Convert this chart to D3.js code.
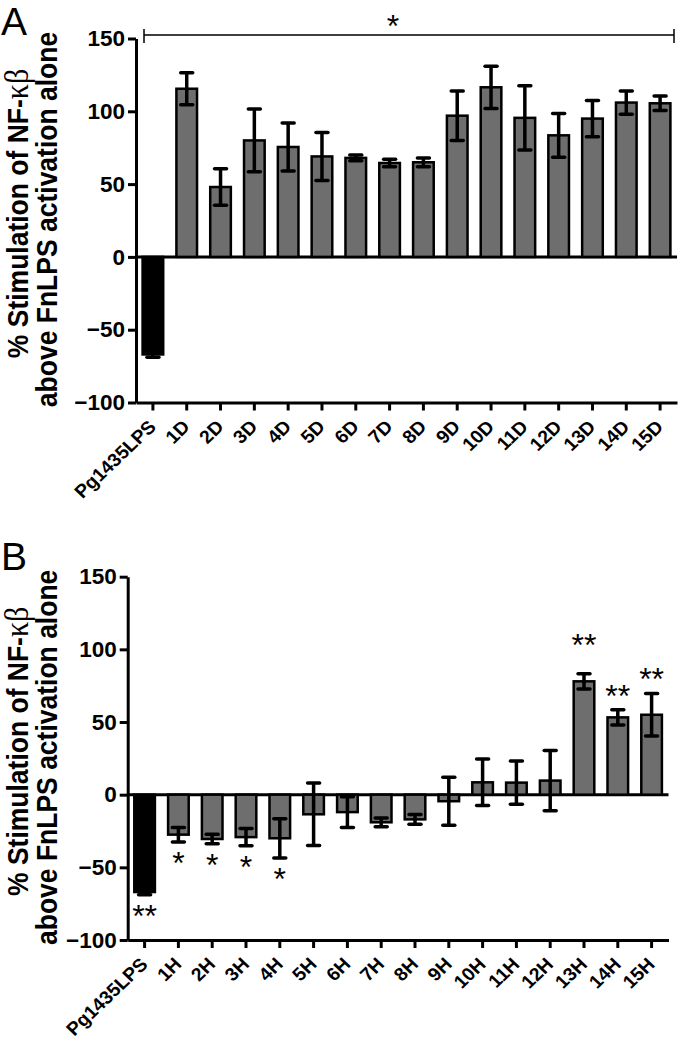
<!DOCTYPE html>
<html>
<head>
<meta charset="utf-8">
<script src="https://cdn.jsdelivr.net/npm/d3@7"></script>
<style>
  html, body { margin: 0; padding: 0; background: #fff; }
  svg { display: block; }
</style>
</head>
<body>
<svg id="chart" width="680" height="1038"></svg>
<script>
// ---------- DATA ----------
const catsA = ["Pg1435LPS","1D","2D","3D","4D","5D","6D","7D","8D","9D","10D","11D","12D","13D","14D","15D"];
const valsA = [-67, 115.5, 48, 80, 75.5, 69, 68, 64.5, 65, 97, 116.5, 95.5, 83.5, 95, 106, 105.5];
const errA  = [2, 11, 12.5, 21.5, 16.5, 16.5, 2, 2.5, 3, 17, 14.5, 22, 15, 12.5, 8, 5];
const sigA  = "*";   // one bracket over all groups

const catsB = ["Pg1435LPS","1H","2H","3H","4H","5H","6H","7H","8H","9H","10H","11H","12H","13H","14H","15H"];
const valsB = [-67, -27.5, -30.5, -29.2, -30, -13.5, -12, -19, -17, -4.5, 8.5, 8.3, 9.7, 78, 53.2, 55];
const errB  = [1.8, 5, 3.3, 6, 13.5, 21.5, 10.5, 3, 3.3, 16.5, 16, 14.8, 20.7, 5.2, 5.3, 14.7];
const sigB  = ["**","*","*","*","*","","","","","","","","","**","**","**"];

const yTicks = [150, 100, 50, 0, -50, -100];
const yDomain = [-100, 150];
const titleLine1 = "% Stimulation of NF-";
const titleGreek = "\u03BA\u03B2";
const titleLine2 = "above FnLPS activation alone";

// ---------- LAYOUT ----------
const svg = d3.select("#chart");
const SANS = "'Liberation Sans', Arial, Helvetica, sans-serif";
const SERIF = "'Liberation Serif', 'DejaVu Serif', serif";
const BAR_FILL = "#6e6e6e";

function panel(cfg) {
  const g = svg.append("g");
  const y = d3.scaleLinear().domain(yDomain).range([cfg.bottom, cfg.top]);
  const x = d3.scaleBand().domain(cfg.cats).range([cfg.left, cfg.right])
              .paddingInner(0.39).paddingOuter(0.195);
  const bw = x.bandwidth();
  const cx = c => x(c) + bw / 2;

  // y axis
  const ya = g.append("g").attr("transform", `translate(${cfg.left},0)`)
    .call(d3.axisLeft(y).tickValues(yTicks).tickSize(8).tickSizeOuter(0).tickPadding(3));
  ya.select(".domain").attr("stroke", "#000").attr("stroke-width", 3);
  ya.selectAll(".tick line").attr("stroke", "#000").attr("stroke-width", 3);
  ya.selectAll(".tick text").attr("font-family", SANS).attr("font-weight", "bold")
    .attr("font-size", 22.5).attr("fill", "#000");

  // x axis (at bottom)
  const xa = g.append("g").attr("transform", `translate(0,${cfg.bottom})`)
    .call(d3.axisBottom(x).tickSize(8).tickSizeOuter(0));
  xa.select(".domain").attr("stroke", "#000").attr("stroke-width", 3);
  xa.selectAll(".tick line").attr("stroke", "#000").attr("stroke-width", 3);
  xa.selectAll(".tick text")
    .attr("font-family", SANS).attr("font-weight", "bold").attr("font-size", 18.5)
    .attr("fill", "#000")
    .attr("text-anchor", "end")
    .attr("x", 0).attr("y", 0).attr("dy", "0.72em")
    .attr("transform", "translate(-5.6,16) scale(1.05,1) rotate(-45)");

  // zero line
  g.append("line")
    .attr("x1", cfg.left).attr("x2", cfg.right)
    .attr("y1", y(0)).attr("y2", y(0))
    .attr("stroke", "#000").attr("stroke-width", 3);

  const data = cfg.cats.map((c, i) => ({c, v: cfg.vals[i], e: cfg.errs[i], s: cfg.sig ? cfg.sig[i] : "", i}));

  // bars
  g.selectAll("rect.bar").data(data).enter().append("rect")
    .attr("class", "bar")
    .attr("x", d => x(d.c))
    .attr("width", bw)
    .attr("y", d => Math.min(y(d.v), y(0)))
    .attr("height", d => Math.abs(y(d.v) - y(0)))
    .attr("fill", d => d.i === 0 ? "#000" : BAR_FILL)
    .attr("stroke", "#000").attr("stroke-width", 2.5);

  // error bars
  const eb = g.selectAll("g.err").data(data).enter().append("g").attr("class", "err");
  eb.append("line")
    .attr("x1", d => cx(d.c)).attr("x2", d => cx(d.c))
    .attr("y1", d => y(d.v + d.e)).attr("y2", d => y(d.v - d.e))
    .attr("stroke", "#000").attr("stroke-width", 3.5);
  [1, -1].forEach(sgn => {
    eb.append("line")
      .attr("x1", d => cx(d.c) - 6).attr("x2", d => cx(d.c) + 6)
      .attr("y1", d => y(d.v + sgn * d.e)).attr("y2", d => y(d.v + sgn * d.e))
      .attr("stroke", "#000").attr("stroke-width", 3.5)
      .attr("stroke-linecap", "round");
  });

  // significance stars per bar
  if (cfg.sig) {
    g.selectAll("text.sig").data(data.filter(d => d.s)).enter().append("text")
      .attr("class", "sig")
      .attr("x", d => cx(d.c))
      .attr("y", d => {
        if (d.v < 0) return y(d.v - d.e) + 14 + 18;
        const lift = d.c === "13H" ? 36 : 21;
        return y(d.v + d.e) - lift + 18;
      })
      .attr("text-anchor", "middle")
      .attr("font-family", SANS).attr("font-size", 32).attr("fill", "#000")
      .text(d => d.s);
  }

  // y title
  const midY = (cfg.top + cfg.bottom) / 2;
  const t1 = g.append("text")
    .attr("transform", `translate(28,${midY - 7}) rotate(-90) scale(1,1.1)`)
    .attr("text-anchor", "middle")
    .attr("font-family", SANS).attr("font-weight", "bold").attr("font-size", 26.5)
    .attr("fill", "#000");
  t1.append("tspan").text(titleLine1);
  t1.append("tspan").attr("font-family", SERIF).attr("font-weight", "normal")
    .attr("font-size", 30).text(titleGreek);
  g.append("text")
    .attr("transform", `translate(56.5,${midY - 1}) rotate(-90) scale(1,1.1)`)
    .attr("text-anchor", "middle")
    .attr("font-family", SANS).attr("font-weight", "bold").attr("font-size", 26.5)
    .attr("fill", "#000")
    .text(titleLine2);

  // panel letter
  g.append("text")
    .attr("x", 1).attr("y", cfg.letterY)
    .attr("font-family", SANS).attr("font-size", 39).attr("fill", "#000")
    .text(cfg.letter);

  return {g, x, y, cx};
}

// Panel A
const A = panel({cats: catsA, vals: valsA, errs: errA, sig: null,
                 left: 136, right: 677, top: 38.5, bottom: 402.5, letter: "A", letterY: 35});
// bracket over all groups in A
const bx1 = A.x.range()[0] + 8, bx2 = A.x.range()[1] - 3, by = 35;
A.g.append("path")
  .attr("d", `M${bx1},${by - 6}V${by + 8}M${bx1},${by}H${bx2}M${bx2},${by - 6}V${by + 8}`)
  .attr("fill", "none").attr("stroke", "#000").attr("stroke-width", 1.5);
A.g.append("text")
  .attr("x", (bx1 + bx2) / 2 - 16).attr("y", by + 2)
  .attr("text-anchor", "middle")
  .attr("font-family", SANS).attr("font-size", 32).attr("fill", "#000")
  .text(sigA);

// Panel B
panel({cats: catsB, vals: valsB, errs: errB, sig: sigB,
       left: 127.7, right: 668.5, top: 576.7, bottom: 940, letter: "B", letterY: 570});
</script>
</body>
</html>
